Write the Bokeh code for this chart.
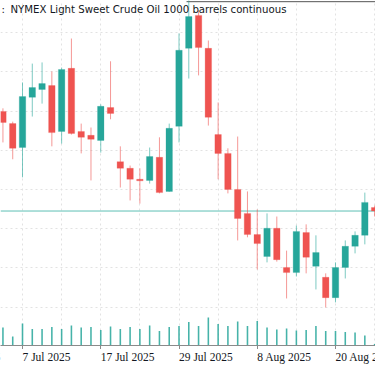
from bokeh.plotting import figure
from bokeh.layouts import column
from bokeh.models import Range1d, FixedTicker, Label, ColumnDataSource
from bokeh.embed import file_html
from bokeh.resources import INLINE

# ---- data (daily OHLC, USD/bbl; volume in thousand contracts) ----
dates = ["2 Jul 2025", "3 Jul 2025", "7 Jul 2025", "8 Jul 2025", "9 Jul 2025",
         "10 Jul 2025", "11 Jul 2025", "14 Jul 2025", "15 Jul 2025", "16 Jul 2025",
         "17 Jul 2025", "18 Jul 2025", "21 Jul 2025", "22 Jul 2025", "23 Jul 2025",
         "24 Jul 2025", "25 Jul 2025", "28 Jul 2025", "29 Jul 2025", "30 Jul 2025",
         "31 Jul 2025", "1 Aug 2025", "4 Aug 2025", "5 Aug 2025", "6 Aug 2025",
         "7 Aug 2025", "8 Aug 2025", "11 Aug 2025", "12 Aug 2025", "13 Aug 2025",
         "14 Aug 2025", "15 Aug 2025", "18 Aug 2025", "19 Aug 2025", "20 Aug 2025",
         "21 Aug 2025", "22 Aug 2025", "25 Aug 2025", "26 Aug 2025"]
opens = [66.99, 66.68, 66.07, 67.35, 67.55, 67.65, 66.48, 68.09, 66.48, 66.38,
         66.25, 67.09, 65.71, 65.54, 65.26, 65.23, 65.82, 64.95, 66.61, 68.60,
         69.44, 68.60, 66.40, 65.92, 65.00, 64.39, 63.85, 63.29, 64.01, 63.01,
         62.88, 63.90, 63.04, 62.76, 62.24, 63.01, 63.55, 63.83, 64.54]
highs = [67.07, 66.73, 67.73, 68.21, 68.24, 68.01, 68.11, 68.85, 66.68, 66.58,
         67.17, 68.27, 66.10, 65.61, 65.54, 66.07, 66.33, 66.68, 68.98, 70.08,
         69.57, 68.80, 67.22, 66.05, 66.35, 64.95, 64.49, 64.39, 64.31, 63.44,
         64.08, 64.11, 63.83, 62.86, 63.14, 63.70, 63.93, 64.92, 64.59]
lows = [66.20, 65.77, 65.31, 66.86, 67.19, 66.10, 66.17, 66.40, 65.92, 65.23,
        65.94, 66.79, 65.05, 64.72, 64.64, 65.15, 64.90, 64.94, 66.20, 67.83,
        67.91, 66.63, 65.26, 64.90, 63.70, 63.78, 62.96, 63.14, 63.16, 62.22,
        62.78, 62.86, 62.45, 61.99, 62.12, 62.73, 63.37, 63.60, 64.31]
closes = [66.71, 66.05, 67.37, 67.60, 67.70, 66.45, 68.06, 66.43, 66.33, 66.28,
          67.12, 66.94, 65.54, 65.26, 65.22, 65.84, 64.92, 66.56, 68.55, 69.41,
          68.62, 66.84, 65.92, 65.00, 64.26, 63.85, 63.62, 64.01, 63.21, 62.88,
          63.93, 63.27, 63.39, 62.24, 63.01, 63.55, 63.83, 64.67, 64.45]
volumes = [180, 90, 220, 165, 165, 185, 165, 200, 180, 185,
           155, 190, 165, 185, 165, 200, 145, 185, 195, 235,
           195, 280, 215, 195, 240, 195, 245, 180, 160, 170,
           150, 155, 195, 145, 145, 135, 130, 100, 15]
# time-axis labels, one every 8 sessions (first and last are cut by the edges)
tick_labels = ["24 Jun 2025", "7 Jul 2025", "17 Jul 2025", "29 Jul 2025",
               "8 Aug 2025", "20 Aug 2025"]
title_text = "NYMEX Light Sweet Crude Oil 1000 barrels continuous"

UP = "#26a69a"
DOWN = "#ef5350"
FONT = "DejaVu Sans Condensed"
TXT = "#131722"

n = len(dates)
idx = list(range(n))
up = [c >= o for o, c in zip(opens, closes)]
anchor = dates.index(tick_labels[1])
tick_pos = [anchor + 8 * (k - 1) for k in range(len(tick_labels))]

def subset(mask):
    return ColumnDataSource(dict(
        x=[i for i in idx if mask[i]],
        o=[opens[i] for i in idx if mask[i]],
        c=[closes[i] for i in idx if mask[i]],
        h=[highs[i] for i in idx if mask[i]],
        l=[lows[i] for i in idx if mask[i]],
    ))

src_up = subset(up)
src_dn = subset([not u for u in up])

y0, y1 = 61.02, 69.82
x0, x1 = -0.25, 38.09
xr = Range1d(x0, x1)

# ---- main pane: candles + volume ----
p = figure(width=375, height=349,
           x_range=xr, y_range=Range1d(y0, y1),
           output_backend="svg", toolbar_location=None,
           min_border=0, outline_line_color=None,
           background_fill_color="white", border_fill_color="white")

p.yaxis.visible = False

# time axis: line + tick marks here, date texts in the strip below
grid_t = [i for i in idx if (i - anchor) % 4 == 0]
p.xaxis.ticker = FixedTicker(ticks=tick_pos)
p.xaxis.major_label_text_font_size = "0px"
p.xaxis.major_label_text_color = None
p.xaxis.major_label_standoff = 0
p.xaxis.axis_line_color = "#8a8a8a"
p.xaxis.major_tick_line_color = "#8a8a8a"
p.xaxis.major_tick_out = 4
p.xaxis.major_tick_in = 0
p.xaxis.minor_tick_out = 0
p.xaxis.minor_tick_in = 0

p.xgrid.ticker = FixedTicker(ticks=grid_t)
p.ygrid.ticker = FixedTicker(ticks=list(range(61, 70)))
for g in (p.xgrid, p.ygrid):
    g.grid_line_color = "#e2e2e2"
    g.grid_line_dash = "2 3"

# volume on its own scale at the bottom
p.extra_y_ranges = {"vol": Range1d(0, 3450)}
p.vbar(x=idx, top=volumes, bottom=0, width=0.16, y_range_name="vol",
       fill_color=UP, line_color=None, fill_alpha=0.85)

# last price line
p.segment(x0=[x0], y0=[closes[-1]], x1=[x1], y1=[closes[-1]],
          line_color="#5dbfb4", line_width=1)

# top edge of the pane (visible right of the legend)
p.segment(x0=[18.77], y0=[69.79], x1=[x1], y1=[69.79],
          line_color="#555555", line_width=1)

# candles
for src, col in ((src_up, UP), (src_dn, DOWN)):
    p.segment(x0="x", y0="h", x1="x", y1="l", source=src,
              line_color=col, line_alpha=0.6, line_width=1)
    p.vbar(x="x", top="o", bottom="c", width=0.66, source=src,
           fill_color=col, line_color=col, line_alpha=0.5, line_width=0.5)

# title
p.add_layout(Label(x=x0, y=y1, x_offset=1, y_offset=-2, text=":",
                   text_baseline="top", text_font=FONT,
                   text_font_size="11.3px", text_color=TXT))
p.add_layout(Label(x=x0, y=y1, x_offset=10, y_offset=-2, text=title_text,
                   text_baseline="top", text_font=FONT,
                   text_font_size="11.3px", text_color=TXT))

# ---- date strip under the axis: labels left-aligned at their ticks ----
p2 = figure(width=375, height=17, x_range=xr, y_range=Range1d(0, 1),
            output_backend="svg", toolbar_location=None,
            min_border=0, outline_line_color=None,
            background_fill_color="white", border_fill_color="white")
p2.xaxis.visible = False
p2.yaxis.visible = False
p2.grid.visible = False
p2.text(x=tick_pos, y=[1] * len(tick_pos), text=tick_labels,
        text_align="left", text_baseline="top", y_offset=1,
        text_font="DejaVu Sans Condensed", text_font_size="11.5px",
        text_color=TXT)

layout = column(p, p2, spacing=0)
open("out.html", "w").write(file_html(layout, INLINE))
